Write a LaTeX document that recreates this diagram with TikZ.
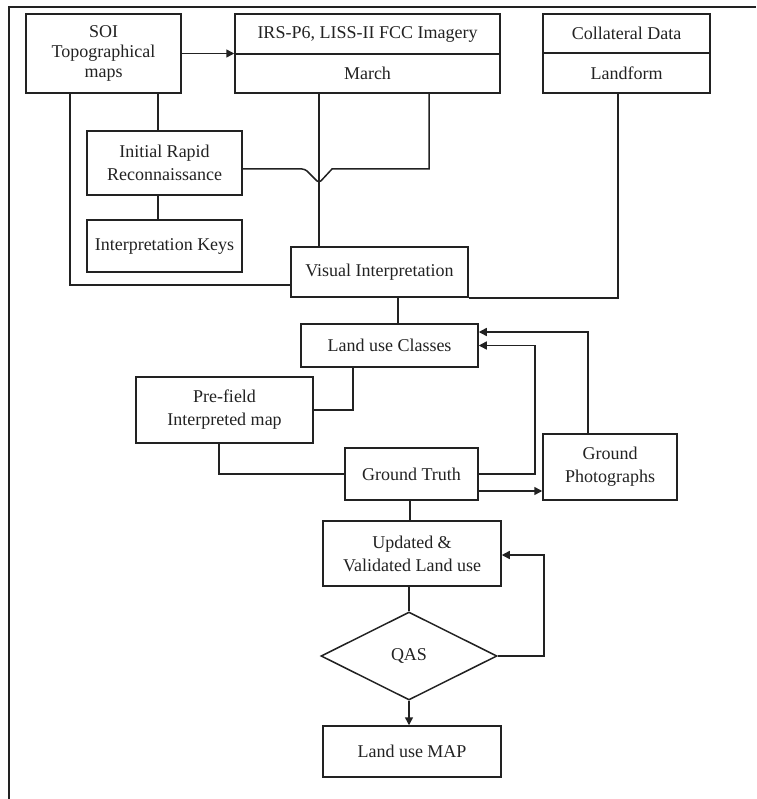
\documentclass[tikz,border=0pt]{standalone}
\usepackage{fontspec}
\setmainfont{Liberation Serif}
\usetikzlibrary{arrows.meta,shapes.geometric}
\definecolor{ink}{HTML}{222222}
\begin{document}
\begin{tikzpicture}[x=1pt,y=-1pt,
  every node/.style={font=\fontsize{18pt}{23pt}\selectfont,text=ink},
  box/.style={draw=ink,line width=1.5pt,rectangle,inner sep=0pt,align=center},
  conn/.style={draw=ink,line width=1.5pt},
  arr/.style={conn,-{Triangle[length=8pt,width=8pt]}}]
\useasboundingbox (0,0) rectangle (756,799);
% frame (left and top edges)
\draw[ink,line width=2pt] (9,799) -- (9,7) -- (756,7);
% nodes
\node[box,minimum width=155pt,minimum height=79pt,font=\fontsize{18pt}{20pt}\selectfont] (soi) at (103.5,53.5) {SOI\\Topographical\\maps};
\node[box,minimum width=265pt,minimum height=40pt] (irsT) at (367.5,34) {IRS-P6, LISS-II FCC Imagery};
\node[box,minimum width=265pt,minimum height=39pt] (irsB) at (367.5,73.5) {March};
\node[box,minimum width=167pt,minimum height=39pt] (colT) at (626.5,33.5) {Collateral Data};
\node[box,minimum width=167pt,minimum height=40pt] (colB) at (626.5,73) {Landform};
\node[box,minimum width=155pt,minimum height=64pt] (irr) at (164.5,163) {Initial Rapid\\Reconnaissance};
\node[box,minimum width=155pt,minimum height=52pt] (keys) at (164.5,246) {Interpretation Keys};
\node[box,minimum width=177pt,minimum height=50pt] (vi) at (379.5,272) {Visual Interpretation};
\node[box,minimum width=177pt,minimum height=43pt] (luc) at (389.5,345.5) {Land use Classes};
\node[box,minimum width=177pt,minimum height=66pt] (pre) at (224.5,410) {Pre-field\\Interpreted map};
\node[box,minimum width=133pt,minimum height=52pt] (gt) at (411.5,474) {Ground Truth};
\node[box,minimum width=134pt,minimum height=66pt] (gp) at (610,467) {Ground\\Photographs};
\node[box,minimum width=178pt,minimum height=65pt] (upd) at (412,553.5) {Updated \&\\Validated Land use};
\node[box,diamond,minimum width=176pt,minimum height=88pt] (qas) at (409,656) {QAS};
\node[box,minimum width=178pt,minimum height=51pt] (map) at (412,751.5) {Land use MAP};
% connectors
\draw[arr] (soi.east) -- (soi.east -| irsB.west);
\draw[conn] (soi.south -| 158,0) -- (irr.north -| 158,0);
\draw[conn] (irr.south -| 158,0) -- (keys.north -| 158,0);
\draw[conn] (soi.south -| 70,0) |- (vi.west |- 0,285);
\draw[conn] (irsB.south -| 319,0) -- (vi.north -| 319,0);
\draw[conn] (irsB.south -| 429,0) |- (332,169) [rounded corners=3pt] -- (319,183) -- (305,169) [sharp corners] -- (irr.east |- 0,169);
\draw[conn] (colB.south -| 618,0) |- (vi.south east);
\draw[conn] (vi.south -| 398,0) -- (luc.north -| 398,0);
\draw[conn] (luc.south -| 353,0) |- (pre.east);
\draw[conn] (pre.south -| 219,0) |- (gt.west);
\draw[arr] (gt.east) -| (535,345.5) -- (luc.east);
\draw[arr] (gt.east |- 0,491) -- (gp.west |- 0,491);
\draw[arr] (gp.north -| 588,0) |- (luc.east |- 0,332);
\draw[conn] (gt.south -| 410,0) -- (upd.north -| 410,0);
\draw[conn] (upd.south -| 409,0) -- (qas.north);
\draw[arr] (qas.east) -| (544,555) -- (upd.east |- 0,555);
\draw[arr] (qas.south) -- (map.north -| qas.south);
\end{tikzpicture}
\end{document}
